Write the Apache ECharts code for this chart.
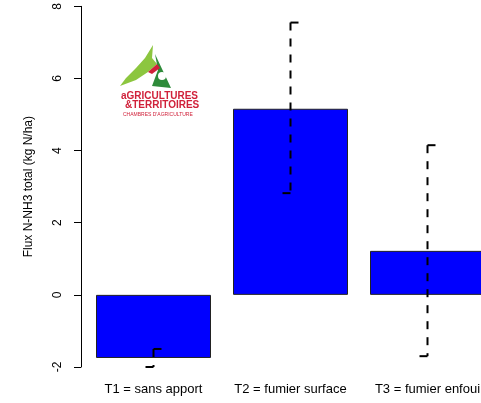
<!DOCTYPE html>
<html>
<head>
<meta charset="utf-8">
<script src="https://cdn.jsdelivr.net/npm/echarts@6/dist/echarts.min.js"></script>
<style>
  html, body { margin: 0; padding: 0; background: #fff; overflow: hidden; }
  /* la figure d'origine est coupee a droite : on dessine plus large */
  #main { width: 496px; height: 403px; }
</style>
</head>
<body>
<div id="main"></div>
<script>
// donnees du graphique
var categories = ["T1 = sans apport", "T2 = fumier surface", "T3 = fumier enfoui"];
var fluxMoyen = [-1.75, 5.16, 1.22];
var fluxBas = [-2.0, 2.82, -1.7];
var fluxHaut = [-1.5, 7.55, 4.15];
var yTicks = [-2, 0, 2, 4, 6, 8];

var chart = echarts.init(document.getElementById("main"));

var errData = categories.map(function (c, i) {
  return [i, fluxBas[i], fluxHaut[i]];
});

// barres d'erreur : trait pointille + demi-chapeaux
function renderErr(params, api) {
  var lo = api.coord([api.value(0), api.value(1)]);
  var hi = api.coord([api.value(0), api.value(2)]);
  var cap = 8;
  var st = { stroke: "#000", lineWidth: 2 };
  return {
    type: "group",
    children: [
      { type: "line", shape: { x1: hi[0], y1: hi[1], x2: lo[0], y2: lo[1] },
        style: { stroke: "#000", lineWidth: 2, lineDash: [8, 8] } },
      { type: "line", shape: { x1: hi[0], y1: hi[1], x2: hi[0] + cap, y2: hi[1] }, style: st },
      { type: "line", shape: { x1: lo[0] - cap, y1: lo[1], x2: lo[0], y2: lo[1] }, style: st }
    ]
  };
}

chart.setOption({
  animation: false,
  textStyle: { fontFamily: "Liberation Sans, Arial, sans-serif" },
  grid: { left: 85, right: 0, top: 6, bottom: 36 },
  xAxis: {
    type: "category",
    data: categories,
    axisLine: { show: false },
    axisTick: { show: false },
    axisLabel: { color: "#000", fontSize: 13, margin: 16, interval: 0 }
  },
  yAxis: {
    type: "value",
    min: yTicks[0],
    max: yTicks[yTicks.length - 1],
    interval: 2,
    offset: 4,
    name: "Flux N-NH3 total (kg N/ha)",
    nameLocation: "middle",
    nameRotate: 90,
    nameGap: 46,
    nameTextStyle: { color: "#000", fontSize: 12 },
    splitLine: { show: false },
    axisLine: { show: true, lineStyle: { color: "#000", width: 1 } },
    axisTick: { show: true, length: 7, lineStyle: { color: "#000" } },
    axisLabel: { color: "#000", fontSize: 12, rotate: 90, margin: 17 }
  },
  series: [
    {
      type: "bar",
      data: fluxMoyen,
      barWidth: 115,
      itemStyle: { color: "#0000ff", borderColor: "#222", borderWidth: 1 }
    },
    {
      type: "custom",
      renderItem: renderErr,
      data: errData,
      z: 5
    }
  ],
  // logo Chambres d'agriculture
  graphic: [
    { type: "polygon", shape: { points: [[120, 86], [126, 78], [136, 68], [145, 58], [153, 45], [152, 58], [157, 64], [148, 72], [136, 80]] },
      style: { fill: "#8cc63f" } },
    { type: "polygon", shape: { points: [[155, 54], [171, 88], [152, 86], [158, 70]] },
      style: { fill: "#2e8b3a" } },
    { type: "circle", shape: { cx: 162, cy: 76, r: 4 }, style: { fill: "#fff" } },
    { type: "polygon", shape: { points: [[148, 72], [157, 64], [160, 68], [152, 74]] },
      style: { fill: "#d0213a" } },
    { type: "text", left: 121, top: 91,
      style: { text: "aGRICULTURES", fill: "#d0213a", font: "bold 10px 'Liberation Sans Narrow', sans-serif" } },
    { type: "text", left: 125, top: 100,
      style: { text: "&TERRITOIRES", fill: "#d0213a", font: "bold 10px 'Liberation Sans Narrow', sans-serif" } },
    { type: "text", left: 123, top: 112,
      style: { text: "CHAMBRES D'AGRICULTURE", fill: "#d0213a", font: "5px 'Liberation Sans', sans-serif" } }
  ]
});
</script>
</body>
</html>
